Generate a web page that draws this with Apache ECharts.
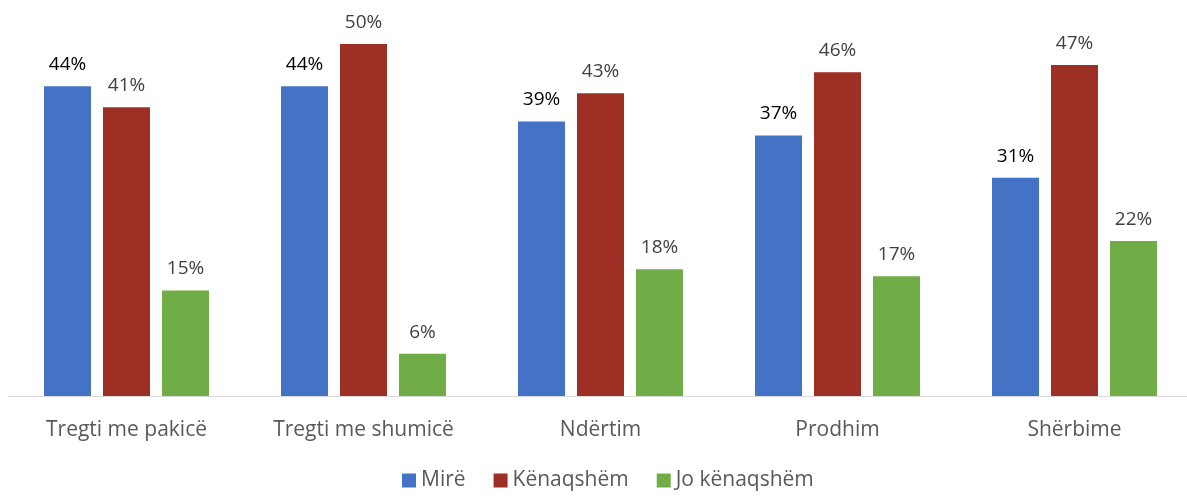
<!DOCTYPE html>
<html>
<head>
<meta charset="utf-8">
<script src="https://cdn.jsdelivr.net/npm/echarts@6/dist/echarts.min.js"></script>
<style>
  html, body { margin: 0; padding: 0; background: #fff; }
  #chart { width: 1187px; height: 496px; }
</style>
</head>
<body>
<div id="chart"></div>
<script>
// sektoret
var categories = ['Tregti me pakicë', 'Tregti me shumicë', 'Ndërtim', 'Prodhim', 'Shërbime'];
var seriesNames = ['Mirë', 'Kënaqshëm', 'Jo kënaqshëm'];
var mire = [44, 44, 39, 37, 31];
var kenaqshem = [41, 50, 43, 46, 47];
var joKenaqshem = [15, 6, 18, 17, 22];

var colors = ['#4472C4', '#9E2F25', '#70AD47'];
var labelColors = ['#000000', '#404040', '#404040'];
var font = '"Open Sans", sans-serif';

function makeSeries(name, data, i) {
  return {
    name: name,
    type: 'bar',
    data: data,
    barWidth: 47,
    barGap: '25.5%',
    itemStyle: { color: colors[i] },
    label: {
      show: true,
      position: 'top',
      distance: 12,
      formatter: '{c}%',
      color: labelColors[i],
      fontSize: 19,
      fontFamily: font
    }
  };
}

var chart = echarts.init(document.getElementById('chart'));
chart.setOption({
  animation: false,
  textStyle: { fontFamily: font },
  grid: { left: 8, width: 1185, top: 44, bottom: 100, containLabel: false, outerBoundsMode: 'none' },
  legend: {
    bottom: 0,
    left: 397,
    itemWidth: 14,
    itemHeight: 14,
    itemGap: 28,
    icon: 'rect',
    textStyle: { color: '#595959', fontSize: 21, fontFamily: font },
    data: seriesNames
  },
  xAxis: {
    type: 'category',
    data: categories,
    axisLine: { lineStyle: { color: '#D9D9D9', width: 1 } },
    axisTick: { show: false },
    axisLabel: { color: '#595959', fontSize: 21, margin: 24, fontFamily: font }
  },
  yAxis: {
    type: 'value',
    min: 0,
    max: 50,
    show: false
  },
  series: [
    makeSeries(seriesNames[0], mire, 0),
    makeSeries(seriesNames[1], kenaqshem, 1),
    makeSeries(seriesNames[2], joKenaqshem, 2)
  ]
});
</script>
</body>
</html>
